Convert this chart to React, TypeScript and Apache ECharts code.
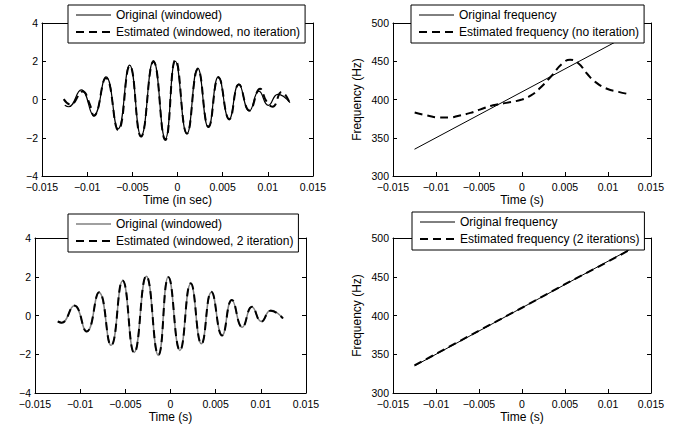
import React, { useEffect, useRef } from "react";
import * as echarts from "echarts";

// ---- tick values ----
const timeTickValues = [-0.015, -0.01, -0.005, 0, 0.005, 0.01, 0.015];
const ampTickValues = [-4, -2, 0, 2, 4];
const freqTickValues = [300, 350, 400, 450, 500];

// ---- windowed signal (extrema) ----
const origTime = [-0.01248, -0.01206, -0.01066, -0.00928, -0.00791, -0.00658, -0.0053, -0.00403, -0.00267, -0.00135, -0.00024, 0.00104, 0.00224, 0.00342, 0.00453, 0.00572, 0.00679, 0.00795, 0.00902, 0.01006, 0.0111, 0.01245];
const origValue = [-0.3, -0.38, 0.5, -0.83, 1.19, -1.54, 1.8, -1.91, 2.03, -2.06, 2.0, -1.8, 1.64, -1.46, 1.2, -1.02, 0.8, -0.6, 0.44, -0.31, 0.27, -0.16];

// estimated, no iteration (top left, dashed)
const estNoIterTime = [-0.0126, -0.01185, -0.0105, -0.00975, -0.00925, -0.00792, -0.00656, -0.00528, -0.00404, -0.00266, -0.00135, -0.00022, 0.00105, 0.00226, 0.00344, 0.00455, 0.00574, 0.0068, 0.00797, 0.00915, 0.00985, 0.01053, 0.01153, 0.01245];
const estNoIterValue = [0.02, -0.27, 0.42, -0.2, -0.86, 1.12, -1.6, 1.76, -1.94, 1.98, -2.12, 2.08, -1.78, 1.58, -1.42, 1.14, -1.04, 0.78, -0.58, 0.56, -0.1, -0.38, 0.39, -0.21];

// estimated, 2 iterations (bottom left, dashed)
const est2IterTime = [-0.01248, -0.01205, -0.01065, -0.00928, -0.0079, -0.00658, -0.0053, -0.00402, -0.00268, -0.00134, -0.00023, 0.00105, 0.00224, 0.00343, 0.00453, 0.00572, 0.0068, 0.00795, 0.00902, 0.01006, 0.0111, 0.01245];
const est2IterValue = [-0.31, -0.37, 0.51, -0.82, 1.2, -1.54, 1.81, -1.92, 2.04, -2.03, 1.97, -1.8, 1.66, -1.46, 1.22, -1.03, 0.8, -0.6, 0.45, -0.31, 0.25, -0.15];

// ---- instantaneous frequency ----
const freqTime = [-0.0125, -0.01, -0.005, 0, 0.005, 0.01, 0.0125];
const origFreq = [335, 350, 380, 410, 440, 470, 485];

const estFreqNoIterTime = [-0.01248, -0.011, -0.00956, -0.0085, -0.00723, -0.006, -0.0049, -0.00337, -0.00182, 0, 0.001, 0.002, 0.00345, 0.0046, 0.0056, 0.00658, 0.00755, 0.00852, 0.00988, 0.01123, 0.0124];
const estFreqNoIterValue = [383, 379, 376.5, 376.5, 379.2, 382.5, 386.8, 392.4, 395.6, 400, 405, 414, 431, 446, 452, 447, 434, 423, 414, 410, 407];

const estFreq2IterTime = [-0.0125, -0.01, -0.005, 0, 0.005, 0.01, 0.0125];
const estFreq2IterValue = [335.5, 350.5, 380.5, 410, 440.5, 469.5, 484.5];

const FONT = "Liberation Sans, Arial, Helvetica, sans-serif";
const TICK_FS = 10.5;
const LABEL_FS = 12;

const pairs = (xs: number[], ys: number[]) => xs.map((x, i) => [x, ys[i]]);
const minusFmt = (v: number) => String(parseFloat(v.toFixed(4))).replace("-", "\u2212");

const ticksOf = (vals: number[]) => ({
  min: vals[0],
  max: vals[vals.length - 1],
  interval: vals[1] - vals[0],
});

function xAxes(g: number, name: string, nameGap: number) {
  const t = ticksOf(timeTickValues);
  const base = {
    type: "value",
    gridIndex: g,
    min: t.min,
    max: t.max,
    interval: t.interval,
    splitLine: { show: false },
    axisLine: { show: true, onZero: false, lineStyle: { color: "#000", width: 1 } },
    axisTick: { show: true, inside: true, length: 4, lineStyle: { color: "#000", width: 1 } },
  };
  return [
    {
      ...base,
      position: "bottom",
      name,
      nameLocation: "middle",
      nameGap,
      nameTextStyle: { color: "#000", fontSize: LABEL_FS, fontFamily: FONT },
      axisLabel: { color: "#000", fontSize: TICK_FS, fontFamily: FONT, margin: 5, formatter: minusFmt, showMinLabel: true, showMaxLabel: true },
    },
    { ...base, position: "top", axisLabel: { show: false } },
  ];
}

function yAxes(g: number, vals: number[], name?: string) {
  const t = ticksOf(vals);
  const base = {
    type: "value",
    gridIndex: g,
    min: t.min,
    max: t.max,
    interval: t.interval,
    splitLine: { show: false },
    axisLine: { show: true, onZero: false, lineStyle: { color: "#000", width: 1 } },
    axisTick: { show: true, inside: true, length: 4, lineStyle: { color: "#000", width: 1 } },
  };
  return [
    {
      ...base,
      position: "left",
      name: name || "",
      nameLocation: "middle",
      nameGap: 30,
      nameTextStyle: { color: "#000", fontSize: LABEL_FS, fontFamily: FONT },
      axisLabel: { color: "#000", fontSize: TICK_FS, fontFamily: FONT, margin: 4, formatter: minusFmt, showMinLabel: true, showMaxLabel: true },
    },
    { ...base, position: "right", axisLabel: { show: false } },
  ];
}

const solid = (color: string, width: number) => ({ color, width, type: "solid" as const });
const dashed = { color: "#000", width: 2, type: [8, 5] };

function lineSeries(name: string, g: number, data: number[][], lineStyle: any, z: number) {
  return {
    type: "line",
    name,
    xAxisIndex: 2 * g,
    yAxisIndex: 2 * g,
    data,
    symbol: "none",
    smooth: true,
    lineStyle,
    itemStyle: { color: lineStyle.color },
    z,
    silent: true,
  };
}

function straightSeries(name: string, g: number, data: number[][], lineStyle: any, z: number) {
  return { ...lineSeries(name, g, data, lineStyle, z), smooth: false };
}

const hiddenSymbol = { color: "rgba(0,0,0,0)", borderColor: "rgba(0,0,0,0)", borderWidth: 0, opacity: 0 };

function legendBox(left: number, top: number, data: any[]) {
  return {
    orient: "vertical",
    left,
    top,
    data,
    backgroundColor: "#fff",
    borderColor: "#000",
    borderWidth: 1,
    borderRadius: 0,
    padding: [4, 5, 5, 7],
    itemGap: 5,
    itemWidth: 35,
    itemHeight: 14,
    selectedMode: false,
    itemStyle: hiddenSymbol,
    textStyle: { color: "#000", fontSize: LABEL_FS, fontFamily: FONT },
    z: 10,
  };
}

const thinEntry = (name: string, color: string, width: number) => ({
  name,
  lineStyle: { color, width, type: "solid" },
  itemStyle: hiddenSymbol,
});

const N_ORIG = "Original (windowed)";
const N_EST0 = "Estimated (windowed, no iteration)";
const N_EST2 = "Estimated (windowed, 2 iteration)";
const N_FO = "Original frequency";
const N_FE0 = "Estimated frequency (no iteration)";
const N_FE2 = "Estimated frequency (2 iterations)";

const option: any = {
  animation: false,
  backgroundColor: "#fff",
  grid: [
    { left: 42, top: 23, width: 271, height: 153 },
    { left: 393, top: 23, width: 258, height: 153 },
    { left: 35, top: 238, width: 271, height: 155 },
    { left: 393, top: 238, width: 258, height: 155 },
  ],
  xAxis: [
    ...xAxes(0, "Time (in sec)", 18),
    ...xAxes(1, "Time (s)", 18),
    ...xAxes(2, "Time (s)", 18),
    ...xAxes(3, "Time (s)", 18),
  ],
  yAxis: [
    ...yAxes(0, ampTickValues),
    ...yAxes(1, freqTickValues, "Frequency (Hz)"),
    ...yAxes(2, ampTickValues),
    ...yAxes(3, freqTickValues, "Frequency (Hz)"),
  ],
  legend: [
    legendBox(68, 5, [thinEntry(N_ORIG, "#000", 1), N_EST0]),
    legendBox(411, 5, [thinEntry(N_FO, "#000", 1), N_FE0]),
    legendBox(68, 214, [thinEntry(N_ORIG, "#808080", 1.5), N_EST2]),
    legendBox(412, 212, [thinEntry(N_FO, "#000", 1), N_FE2]),
  ],
  series: [
    lineSeries(N_ORIG, 0, pairs(origTime, origValue), solid("#000", 1.2), 2),
    lineSeries(N_EST0, 0, pairs(estNoIterTime, estNoIterValue), dashed, 3),
    straightSeries(N_FO, 1, pairs(freqTime, origFreq), solid("#000", 1), 2),
    lineSeries(N_FE0, 1, pairs(estFreqNoIterTime, estFreqNoIterValue), dashed, 3),
    lineSeries(N_ORIG, 2, pairs(origTime, origValue), solid("#808080", 1.5), 2),
    lineSeries(N_EST2, 2, pairs(est2IterTime, est2IterValue), dashed, 3),
    straightSeries(N_FO, 3, pairs(freqTime, origFreq), solid("#000", 1), 2),
    straightSeries(N_FE2, 3, pairs(estFreq2IterTime, estFreq2IterValue), dashed, 3),
  ],
};

export default function App() {
  const ref = useRef<HTMLDivElement>(null);
  useEffect(() => {
    const chart = echarts.init(ref.current!, null, { renderer: "svg" });
    chart.setOption(option);
    return () => chart.dispose();
  }, []);
  return (
    <div
      ref={ref}
      style={{ position: "fixed", left: 0, top: 0, width: 689, height: 429, background: "#fff" }}
    />
  );
}
